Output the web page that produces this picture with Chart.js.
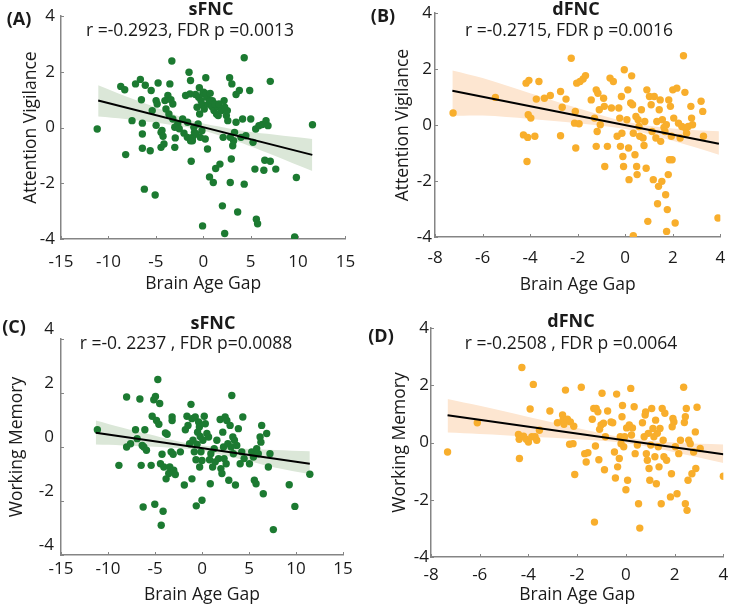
<!DOCTYPE html>
<html>
<head>
<meta charset="utf-8">
<script src="https://cdn.jsdelivr.net/npm/chart.js@4.4.1/dist/chart.umd.min.js"></script>
<style>
  html,body{margin:0;padding:0;background:#fff;}
  #wrap{position:relative;width:736px;height:607px;overflow:hidden;font-family:'Open Sans',sans-serif;color:#1a1a1a;}
  canvas{position:absolute;}
  .lbl{position:absolute;transform:translate(-50%,-50%);white-space:nowrap;line-height:1;}
  .bold{font-weight:700;font-size:18px;}
  .stat{font-size:17.5px;}
</style>
</head>
<body>
<div id="wrap">
  <canvas id="chA" width="368" height="300" style="left:0;top:0"></canvas>
  <canvas id="chB" width="368" height="300" style="left:368px;top:0"></canvas>
  <canvas id="chC" width="368" height="307" style="left:0;top:300px"></canvas>
  <canvas id="chD" width="368" height="307" style="left:368px;top:300px"></canvas>

  <div class="lbl bold" style="left:19px;top:18px">(A)</div>
  <div class="lbl bold" style="left:211px;top:8px">sFNC</div>
  <div class="lbl stat" style="left:190px;top:30px">r =-0.2923, FDR p =0.0013</div>

  <div class="lbl bold" style="left:383px;top:15px">(B)</div>
  <div class="lbl bold" style="left:576px;top:8px">dFNC</div>
  <div class="lbl stat" style="left:569px;top:30px">r =-0.2715, FDR p =0.0016</div>

  <div class="lbl bold" style="left:14px;top:326px">(C)</div>
  <div class="lbl bold" style="left:213px;top:322px">sFNC</div>
  <div class="lbl stat" style="left:186px;top:343px">r =-0. 2237 , FDR p=0.0088</div>

  <div class="lbl bold" style="left:381px;top:335px">(D)</div>
  <div class="lbl bold" style="left:571px;top:320px">dFNC</div>
  <div class="lbl stat" style="left:571px;top:343px">r =-0.2508 , FDR p =0.0064</div>
</div>
<script>
// ===== Data: points [brain age gap, score] =====
const sfncAttention = [
  [-11.18,-0.05],[-8.70,1.48],[-8.28,1.36],[-8.18,-0.97],[-7.51,0.25],[-7.14,1.57],[-6.63,1.73],[-6.52,1.0],[-6.42,0.16],[-6.42,-0.23],
  [-6.42,-0.74],[-6.21,-2.21],[-6.11,1.52],[-5.59,-0.83],[-5.49,1.33],[-5.38,0.61],[-5.07,-2.42],[-4.97,0.08],[-4.97,0.97],[-4.76,1.6],
  [-4.86,0.85],[-4.45,-0.17],[-4.45,-0.71],[-4.35,-0.1],[-4.24,-0.31],[-4.14,-0.59],[-4.04,0.97],[-3.93,0.67],[-3.73,1.15],[-3.62,0.49],
  [-3.52,1.57],[-3.41,1.0],[-3.31,2.39],[-3.21,0.85],[-3.21,0.31],[-3.00,0.01],[-3.00,-0.71],[-2.95,-0.37],[-2.69,0.13],[-2.53,-0.04],
  [-2.17,0.31],[-1.86,1.15],[-1.65,0.19],[-1.50,1.99],[-1.40,1.21],[-1.34,1.69],[-1.27,-1.21],[-1.14,-0.35],[-1.14,-0.47],[-0.99,0.01],
  [-0.93,-0.17],[-0.82,1.19],[-0.75,-0.23],[-0.65,0.73],[-0.54,0.13],[-0.48,1.09],[-0.41,1.43],[-0.38,0.49],[-0.31,-0.35],[-0.23,0.97],
  [-0.14,0.83],[-0.14,-0.11],[-0.07,-3.53],[-0.04,1.21],[0.11,0.67],[0.21,-0.41],[0.27,1.79],[0.38,1.09],[0.45,-0.77],[0.55,0.85],
  [0.66,-1.77],[0.72,0.97],[0.90,0.76],[1.06,-1.97],[1.13,0.61],[1.31,-1.47],[1.40,0.49],[1.51,0.76],[1.58,0.43],[1.76,-1.31],
  [1.92,0.61],[2.02,-2.81],[2.10,-0.35],[2.20,0.97],[2.26,-3.8],[2.44,0.43],[2.54,0.61],[2.78,1.79],[2.85,-1.97],[2.96,-1.13],
  [3.02,1.57],[3.11,-0.65],[3.20,-0.47],[3.30,-0.17],[3.46,1.19],[3.63,-3.03],[3.81,1.33],[3.98,-0.35],[4.15,0.31],[4.32,-2.03],
  [4.32,2.51],[4.49,-0.29],[4.90,1.33],[5.01,0.31],[5.25,-0.53],[5.45,-1.49],[5.53,-0.05],[5.60,-3.29],[5.73,-3.45],[5.87,0.07],
  [6.22,0.11],[6.39,-1.53],[6.49,-1.17],[6.62,0.25],[6.83,0.07],[7.07,-1.21],[7.07,1.66],[7.65,-1.49],[9.64,-3.93],[9.82,-1.79],
  [11.52,0.1],[0.04,1.27],[0.32,1.21],[0.73,1.23],[0.96,0.97],[1.24,0.85],[1.66,0.85],[2.26,0.73],[2.59,0.25],[3.46,0.19],
  [2.85,-0.35],[-2.03,-0.2],[-1.68,-0.35],[-1.34,-0.47]
];
const dfncAttention = [
  [-7.24,0.43],[-5.46,0.99],[-4.17,1.5],[-4.05,1.6],[-4.08,0.37],[-3.97,0.25],[-4.28,-0.35],[-4.1,-0.44],[-3.8,-0.4],[-4.13,-1.3],
  [-3.74,0.93],[-3.63,1.56],[-3.4,0.96],[-3.15,1.06],[-2.72,1.2],[-2.65,0.64],[-2.72,-0.38],[-2.49,0.93],[-2.27,2.39],[-2.1,0.49],
  [-2.13,0.07],[-2.08,-0.82],[-2.04,1.5],[-1.94,0.05],[-1.9,1.56],[-1.77,1.65],[-1.67,1.77],[-1.43,0.9],[-1.29,0.25],[-1.22,1.26],
  [-1.18,-0.23],[-1.22,-0.76],[-1.15,1.14],[-1.09,0.55],[-1.05,0.01],[-0.91,0.96],[-0.88,0.67],[-0.86,-1.48],[-0.75,-0.76],[-0.64,1.68],
  [-0.58,0.61],[-0.5,1.56],[-0.34,-0.4],[-0.27,0.61],[-0.23,0.25],[-0.2,-0.76],[-0.16,1.02],[-0.14,-0.29],[-0.1,-1.12],[-0.07,-1.48],
  [-0.04,1.98],[0.07,0.19],[0.11,1.26],[0.14,-0.82],[0.16,-1.95],[0.23,0.79],[0.27,1.76],[0.31,0.73],[0.34,-0.29],[0.41,-1.06],
  [0.45,0.31],[0.48,-1.48],[0.5,-1.77],[0.54,0.19],[0.58,-0.05],[0.61,-0.4],[0.68,0.55],[0.75,-0.46],[0.79,-0.73],[0.82,0.13],
  [0.88,-1.54],[0.91,1.26],[0.95,-3.44],[0.34,-3.95],[1.02,1.02],[1.09,0.73],[1.13,-0.23],[1.18,-1.95],[1.22,1.02],[1.29,-0.46],
  [1.33,0.13],[1.36,-2.81],[1.4,-2.19],[1.43,0.55],[1.47,0.9],[1.49,-0.58],[1.54,-2.01],[1.56,0.19],[1.63,-0.08],[1.67,-0.23],
  [1.7,-2.49],[1.73,0.01],[1.74,-3.8],[1.77,-3.02],[1.81,-1.77],[1.83,0.9],[1.86,-1.24],[1.9,0.67],[1.94,-0.4],[1.97,-1.24],
  [2.0,1.26],[2.04,0.25],[2.1,-3.5],[2.17,1.32],[2.24,0.07],[2.31,-0.46],[2.38,-0.05],[2.45,2.48],[2.51,1.17],[2.54,-0.11],
  [2.58,-0.29],[2.65,-0.05],[2.76,0.67],[2.79,0.25],[2.83,0.01],[3.19,0.85],[3.26,0.49],[3.29,-0.4],[3.9,-3.32]
];
const sfncMemory = [
  [-11.13,0.64],[-8.84,-0.68],[-8.02,1.85],[-8.02,0],[-7.60,0.12],[-7.07,0.64],[-6.90,0.31],[-6.61,1.78],[-6.47,-0.68],[-6.36,0.06],
  [-6.26,-2.22],[-6.19,0],[-6.08,0.64],[-5.91,-0.12],[-5.41,-0.68],[-5.30,1.14],[-5.13,1.75],[-5.02,-2.12],[-4.95,1.87],[-4.84,0.98],
  [-4.70,2.50],[-4.59,0.84],[-4.50,1.61],[-4.42,-0.62],[-4.34,-2.90],[-4.25,-0.27],[-4.14,-2.38],[-4.06,-0.74],[-3.89,0.52],[-3.82,-1.18],
  [-3.71,0.47],[-3.54,-0.98],[-3.43,-0.74],[-3.29,-0.18],[-3.18,0.98],[-3.18,1.11],[-3.07,-0.27],[-3.01,-0.86],[-2.84,-1.02],[-2.30,-0.18],
  [-1.88,-1.41],[-1.77,0.64],[-1.60,1.14],[-1.49,0.80],[-1.32,0.12],[-1.17,1.58],[-1.07,1.05],[-1.07,-1.18],[-0.96,0.25],[-0.82,-0.18],
  [-0.72,1.11],[-0.64,-0.47],[-0.61,-2.18],[-0.53,0.10],[-0.47,0.55],[-0.36,0.93],[-0.28,0.74],[-0.25,-0.74],[-0.19,0.39],[-0.11,-0.18],
  [0.00,-1.97],[0.00,-0.50],[0.10,0.25],[0.24,1.14],[0.35,0.86],[0.52,0.50],[0.70,0.37],[0.80,-0.47],[0.88,-1.36],[0.94,-0.25],
  [1.13,-0.74],[1.30,-0.06],[1.41,-0.55],[1.58,0.25],[1.76,-0.43],[1.93,1.02],[2.01,-0.80],[2.12,-0.98],[2.21,0.55],[2.29,0],
  [2.35,-0.43],[2.46,1.11],[2.57,-0.62],[2.64,0.98],[2.75,0.12],[2.85,-1.23],[2.99,0.80],[3.10,0],[3.17,1.91],[3.28,0.37],
  [3.34,-0.25],[3.45,0.25],[3.56,-1.41],[3.70,0.06],[3.87,0.68],[4.06,-0.62],[4.23,-0.18],[4.34,1.11],[4.48,-0.43],[5.05,-0.62],
  [5.29,-0.18],[5.47,-0.37],[5.57,-1.23],[5.75,-1.36],[5.82,-0.06],[5.99,-0.25],[6.18,0.37],[6.27,0.18],[6.35,0.80],[6.52,-1.73],
  [6.88,0.50],[7.06,-0.74],[7.23,-0.25],[7.59,-3.06],[9.28,-1.40],[9.88,-2.20],[11.47,-1.01]
];
const dfncMemory = [
  [-7.32,-0.33],[-6.1,0.69],[-4.41,0.28],[-4.38,0.11],[-4.37,-0.56],[-4.27,2.62],[-4.2,0.22],[-4.09,0.11],[-4.0,0.02],[-3.93,1.17],
  [-3.86,0.2],[-3.8,2.03],[-3.73,0.2],[-3.66,0.08],[-3.55,0.43],[-3.12,1.1],[-2.81,0.69],[-2.6,0.96],[-2.58,0.78],[-2.54,0.64],
  [-2.48,1.83],[-2.4,0.81],[-2.31,-0.06],[-2.28,0.72],[-2.17,-0.04],[-2.14,0.57],[-2.1,-1.12],[-1.83,1.93],[-1.69,-0.39],[-1.63,-0.68],
  [-1.56,-0.36],[-1.38,0.81],[-1.32,1.19],[-1.29,-2.78],[-1.25,-0.12],[-1.22,1.19],[-1.15,1.07],[-1.11,-0.6],[-1.08,0.46],[-1.02,0.61],
  [-0.98,1.72],[-0.92,0.67],[-0.88,-0.95],[-0.84,0.2],[-0.75,1.1],[-0.61,0.72],[-0.54,0.69],[-0.47,-0.33],[-0.43,-1.24],[-0.38,1.69],
  [-0.34,-0.85],[-0.27,-0.56],[-0.23,0.2],[-0.2,-0.04],[-0.16,0.9],[-0.14,1.29],[-0.09,-0.15],[-0.05,0.2],[0,-1.65],[0.03,0.51],
  [0.07,-1.32],[0.14,0.61],[0.2,1.89],[0.23,0.26],[0.27,0.51],[0.34,1.25],[0.38,-0.39],[0.47,-0.09],[0.52,-2.14],[0.57,-2.99],
  [0.68,0.69],[0.75,0.2],[0.79,0.96],[0.81,1.07],[0.84,-0.39],[0.88,-0.62],[0.92,0.32],[0.95,-0.91],[0.98,-1.32],[1.02,-0.09],
  [1.06,1.19],[1.11,0.49],[1.15,0.2],[1.19,-0.5],[1.22,0.78],[1.25,-1.44],[1.29,0.32],[1.33,-0.15],[1.36,-0.85],[1.4,0.49],
  [1.45,-2.14],[1.49,1.19],[1.53,0.08],[1.56,-0.5],[1.6,1.02],[1.67,-0.62],[1.83,-1.9],[1.87,-1.09],[1.9,0.55],[1.93,0.84],
  [1.97,0.72],[2.03,-0.15],[2.1,-1.79],[2.17,-0.39],[2.24,0.08],[2.37,1.93],[2.4,0.7],[2.44,0.9],[2.44,-2.14],[2.48,1.19],
  [2.51,-2.37],[2.55,-1.32],[2.58,0.08],[2.64,-0.04],[2.71,-1.09],[2.78,-0.33],[2.85,0.37],[2.87,-0.91],[2.92,1.23],[3.05,-0.21],
  [4.0,-1.18]
];

// ===== Data: fit lines (endpoints) and confidence bands =====
const fitXA = [-11.08, 11.5],  fitYA = [0.97, -0.98];
const fitXB = [-7.27, 3.94],   fitYB = [1.23, -0.67];
const fitXC = [-11.30, 11.47], fitYC = [0.53, -0.62];
const fitXD = [-7.32, 4.0],    fitYD = [0.95, -0.41];

const bandXA  = [-11.08, -8.2, -5.6, -3.0, -0.4, 2.2, 4.8, 7.4, 11.5];
const bandLoA = [0.40, 0.31, 0.20, 0.08, -0.08, -0.34, -0.65, -0.99, -1.56];
const bandHiA = [1.52, 1.13, 0.80, 0.46, 0.18, 0.00, -0.15, -0.25, -0.41];

const bandXB  = [-7.27, -6, -4, -2, 0, 2, 3.94];
const bandLoB = [0.33, 0.34, 0.22, 0.07, -0.14, -0.56, -1.06];
const bandHiB = [1.95, 1.68, 1.14, 0.61, 0.13, -0.12, -0.22];

const bandXC  = [-11.30, -8.44, -5.75, -3.05, -0.36, 2.33, 5.03, 7.72, 11.47];
const bandLoC = [0.09, 0.06, 0.02, -0.03, -0.12, -0.31, -0.53, -0.76, -1.01];
const bandHiC = [0.98, 0.71, 0.48, 0.25, 0.07, -0.02, -0.07, -0.11, -0.16];

const bandXD  = [-7.32, -6, -4, -2, 0, 2, 4];
const bandLoD = [0.35, 0.30, 0.21, 0.11, -0.03, -0.34, -0.72];
const bandHiD = [1.52, 1.28, 0.89, 0.51, 0.17, 0.00, -0.07];

// ===== Styles =====
const GREEN = '#1c7a31', GREEN_BAND = '#dbe7d8';
const ORANGE = '#f8ae2c', ORANGE_BAND = '#fde6d1';
const AXIS = '#858585', TEXT = '#1a1a1a';
const TICK_FONT = {family:'Open Sans', size:17};
const TITLE_FONT = {family:'Open Sans', size:17.5};

// small inward tick marks, like the MATLAB axes
const inwardTicks = {
  id:'inwardTicks',
  afterDraw(chart){
    const {ctx, chartArea:a, scales:{x, y}} = chart;
    ctx.save(); ctx.strokeStyle = AXIS; ctx.lineWidth = 1;
    x.ticks.forEach(t=>{ const p = Math.round(x.getPixelForValue(t.value))+0.5; ctx.beginPath(); ctx.moveTo(p, a.bottom); ctx.lineTo(p, a.bottom-3); ctx.stroke(); });
    y.ticks.forEach(t=>{ const p = Math.round(y.getPixelForValue(t.value))+0.5; ctx.beginPath(); ctx.moveTo(a.left, p); ctx.lineTo(a.left+3, p); ctx.stroke(); });
    ctx.restore();
  }
};

const pairs = (xs, ys) => xs.map((x,i)=>({x, y:ys[i]}));

function makePanel(id, pts, fitX, fitY, bX, bLo, bHi, dot, band, xr, yTitle, L){
  const tickLh = TICK_FONT.size*1.2, titleLh = TITLE_FONT.size*1.2;
  const padLeft = L.yTitleX - titleLh/2;
  const xBottom = L.xTitleY + titleLh/2;
  return new Chart(document.getElementById(id), {
    type:'scatter',
    data:{ datasets:[
      { type:'line', data:pairs(bX,bLo), borderWidth:0, pointRadius:0, fill:false, tension:0.35, order:3 },
      { type:'line', data:pairs(bX,bHi), borderWidth:0, pointRadius:0, fill:'-1', backgroundColor:band, tension:0.35, order:2 },
      { data:pts.map(([x,y])=>({x,y})), backgroundColor:dot, borderWidth:0, pointRadius:3.7, order:1 },
      { type:'line', data:pairs(fitX,fitY), borderColor:'#000', borderWidth:2, pointRadius:0, fill:false, order:0 }
    ]},
    options:{
      responsive:false, animation:false, events:[],
      layout:{ padding:{ left:padLeft, top:L.top, right:L.w-L.right, bottom:L.h-xBottom } },
      plugins:{ legend:{display:false}, tooltip:{enabled:false} },
      scales:{
        x:{ type:'linear', min:xr[0], max:xr[1],
            ticks:{ stepSize:xr[2], font:TICK_FONT, color:TEXT, padding:L.xLabelY-L.bottom-tickLh/2, maxRotation:0, autoSkip:false },
            grid:{ drawOnChartArea:false, drawTicks:false }, border:{ color:AXIS, width:1.5 },
            title:{ display:true, text:'Brain Age Gap', font:TITLE_FONT, color:TEXT, padding:0 },
            afterFit(s){ s.height = xBottom - L.bottom; } },
        y:{ type:'linear', min:-4, max:4,
            ticks:{ stepSize:2, font:TICK_FONT, color:TEXT, padding:L.yPad, labelOffset:L.yLabelOffset||0 },
            grid:{ drawOnChartArea:false, drawTicks:false }, border:{ color:AXIS, width:1.5 },
            title:{ display:true, text:yTitle, font:TITLE_FONT, color:TEXT, padding:0 },
            afterFit(s){ s.width = L.left - padLeft; } }
      }
    },
    plugins:[inwardTicks]
  });
}

makePanel('chA', sfncAttention, fitXA, fitYA, bandXA, bandLoA, bandHiA, GREEN, GREEN_BAND, [-15,15,5], 'Attention Vigilance',
  {w:368, h:300, left:61, right:352, top:15, bottom:239, yTitleX:31, yPad:6, xLabelY:262, xTitleY:284});
makePanel('chB', dfncAttention, fitXB, fitYB, bandXB, bandLoB, bandHiB, ORANGE, ORANGE_BAND, [-8,4,2], 'Attention Vigilance',
  {w:368, h:300, left:67, right:361, top:13, bottom:237, yTitleX:35, yPad:3, xLabelY:258, xTitleY:285});
makePanel('chC', sfncMemory, fitXC, fitYC, bandXC, bandLoC, bandHiC, GREEN, GREEN_BAND, [-15,15,5], 'Working Memory',
  {w:368, h:307, left:61, right:343, top:39, bottom:255, yTitleX:17, yPad:7, xLabelY:269, xTitleY:295, yLabelOffset:-10});
makePanel('chD', dfncMemory, fitXD, fitYD, bandXD, bandLoD, bandHiD, ORANGE, ORANGE_BAND, [-8,4,2], 'Working Memory',
  {w:368, h:307, left:63, right:358, top:28, bottom:257, yTitleX:32, yPad:2, xLabelY:275, xTitleY:295});
</script>
</body>
</html>
